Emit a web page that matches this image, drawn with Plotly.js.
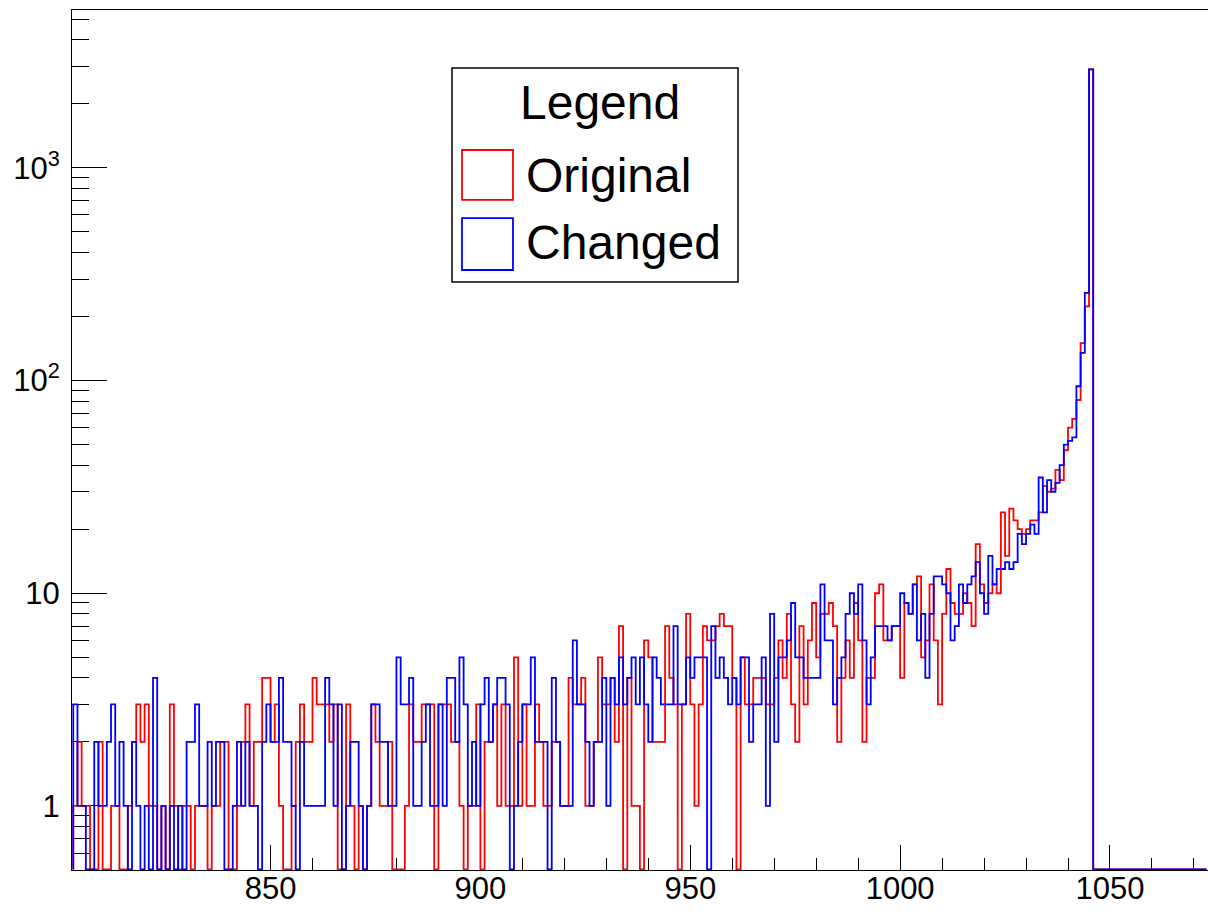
<!DOCTYPE html>
<html>
<head>
<meta charset="utf-8">
<script src="https://cdn.plot.ly/plotly-3.0.1.min.js"></script>
<style>
html,body{margin:0;padding:0;background:#ffffff;overflow:hidden;}
#chart{width:1208px;height:912px;}
</style>
</head>
<body>
<div id="chart"></div>
<script>
// ---- data (counts per 1-unit bin, first bin starts at 803) ----
const binLow = 803;
const binWidth = 1;

const originalCounts = [
  // 803-883
  1,2,1,1,0,0,2,0,0,1, 1,0,0,1,2,3,2,3,1,1, 0,1,0,3,1,0,1,1,0,1,
  1,1,0,1,1,2,2,0,0,1, 2,3,1,2,2,4,4,2,3,1, 0,0,1,2,3,2,2,4,3,3,
  3,2,3,0,0,3,1,0,1,0, 1,3,2,1,1,2,0,0,0,1, 3,
  // 884-964
  2,2,3,3,3,0,3,3,3,2, 2,1,0,1,1,3,0,2,2,3, 1,3,1,1,5,1,3,1,1,3,
  2,1,1,2,2,1,1,4,3,3, 4,1,1,2,5,3,3,4,2,7, 0,4,1,1,0,6,5,2,2,2,
  7,4,3,0,3,8,3,1,3,7, 6,6,7,8,7,7,4,0,5,3, 3,
  // 965-1045
  4,4,4,3,3,4,6,4,8,3, 2,7,3,6,9,5,8,8,9,7, 2,4,6,4,9,6,2,4,4,10,
  11,6,6,7,7,4,9,8,11,12, 5,6,11,6,3,8,13,9,8,8, 10,9,7,17,11,9,10,11,10,24,
  15,25,22,20,19,20,22,22,24,32, 30,31,38,34,47,60,66,81,150,223, 2900,
  // 1046-1072
  0,0,0,0,0,0,0,0,0,0, 0,0,0,0,0,0,0,0,0,0, 0,0,0,0,0,0,0
];

const changedCounts = [
  // 803-883
  3,1,1,0,0,2,1,1,2,3, 1,2,1,0,2,1,0,1,0,4, 0,1,0,1,0,1,0,2,2,3,
  1,1,2,1,2,2,0,0,1,2, 1,2,1,1,0,2,3,2,2,4, 2,2,1,0,2,1,1,1,1,1,
  4,3,1,3,0,1,2,2,1,0, 1,3,3,2,2,1,1,5,3,3, 4,
  // 884-964
  1,1,2,3,1,1,3,1,4,4, 2,5,3,1,2,1,3,4,2,3, 4,4,3,0,1,2,3,3,5,2,
  2,2,0,4,2,1,1,1,6,3, 3,2,1,2,2,4,1,4,3,5, 3,4,5,3,5,3,2,5,4,3,
  3,3,7,3,3,5,4,5,5,5, 0,7,4,5,4,3,4,3,5,5, 2,
  // 965-1045
  3,3,5,1,8,2,5,5,6,9, 5,5,4,4,4,4,11,6,6,3, 4,5,8,10,8,11,6,3,5,7,
  7,7,6,7,7,10,9,8,11,6, 8,4,8,12,12,11,10,6,7,11, 9,11,12,14,10,8,15,11,13,13,
  14,13,14,19,17,19,21,19,35,24, 34,30,33,40,50,52,54,94,135,258, 2900,
  // 1046-1072
  0,0,0,0,0,0,0,0,0,0, 0,0,0,0,0,0,0,0,0,0, 0,0,0,0,0,0,0
];

const seriesNames = ['Original', 'Changed'];
const seriesColors = ['#ff0000', '#0000ff'];
const legendTitle = 'Legend';

const xTickVals = [850, 900, 950, 1000, 1050];
const xMinorTicks = [810,820,830,840,860,870,880,890,910,920,930,940,960,970,980,990,1010,1020,1030,1040,1060,1070];
const yTickVals = [1, 10, 100, 1000];
const yTickText = ['1', '10', '10<sup>2</sup>', '10<sup>3</sup>'];
const yMinorTicks = [0.6,0.7,0.8,0.9, 2,3,4,5,6,7,8,9, 20,30,40,50,60,70,80,90,
                     200,300,400,500,600,700,800,900, 2000,3000,4000,5000];

// empty bins are drawn on the bottom edge of the log frame (as ROOT does)
const yFloor = 0.503;

function stepTrace(counts, name, color) {
  const x = [binLow];
  const y = [yFloor];
  counts.forEach(function (c, i) {
    x.push(binLow + i * binWidth);
    y.push(c > 0 ? c : yFloor);
  });
  x.push(binLow + counts.length * binWidth);
  y.push(y[y.length - 1]);
  return {
    type: 'scatter', mode: 'lines', x: x, y: y, name: name,
    line: {shape: 'hv', color: color, width: 1.8},
    showlegend: false, hoverinfo: 'x+y'
  };
}

const traces = [
  stepTrace(originalCounts, seriesNames[0], seriesColors[0]),
  stepTrace(changedCounts, seriesNames[1], seriesColors[1])
];

// legend box geometry in paper coordinates
const L = {x0: 0.3345, x1: 0.5863, y0: 0.6837, y1: 0.9326};
const layout = {
  width: 1208, height: 912,
  margin: {l: 72, r: 0, t: 10, b: 42, pad: 0},
  paper_bgcolor: '#ffffff', plot_bgcolor: '#ffffff',
  font: {family: 'Liberation Sans, Arial, Helvetica, sans-serif', size: 31, color: '#000000'},
  showlegend: false,
  xaxis: {
    range: [802.7, 1073.35],
    tickmode: 'array', tickvals: xTickVals,
    ticks: 'inside', ticklen: 25, tickwidth: 1, tickcolor: '#000',
    ticklabelstandoff: -9,
    showline: true, linecolor: '#000', linewidth: 1, mirror: true,
    showgrid: false, zeroline: false, layer: 'below traces',
    tickfont: {size: 31},
    minor: {tickmode: 'array', tickvals: xMinorTicks, ticks: 'inside', ticklen: 12, tickwidth: 1, tickcolor: '#000', showgrid: false}
  },
  yaxis: {
    type: 'log',
    range: [Math.log10(0.5), 3.7418],
    tickmode: 'array', tickvals: yTickVals, ticktext: yTickText,
    ticks: 'inside', ticklen: 35, tickwidth: 1, tickcolor: '#000',
    ticklabelstandoff: 5,
    showline: true, linecolor: '#000', linewidth: 1, mirror: false,
    showgrid: false, zeroline: false, layer: 'below traces',
    tickfont: {size: 31},
    minor: {tickmode: 'array', tickvals: yMinorTicks, ticks: 'inside', ticklen: 17, tickwidth: 1, tickcolor: '#000', showgrid: false}
  },
  shapes: [
    {type: 'rect', xref: 'paper', yref: 'paper', x0: L.x0, x1: L.x1, y0: L.y0, y1: L.y1,
     line: {color: '#000', width: 1.5}, fillcolor: '#ffffff', layer: 'above'},
    {type: 'rect', xref: 'paper', yref: 'paper', x0: 0.3433, x1: 0.3882, y0: 0.7791, y1: 0.8372,
     line: {color: seriesColors[0], width: 1.8}, fillcolor: 'rgba(0,0,0,0)', layer: 'above'},
    {type: 'rect', xref: 'paper', yref: 'paper', x0: 0.3433, x1: 0.3882, y0: 0.6977, y1: 0.7581,
     line: {color: seriesColors[1], width: 1.8}, fillcolor: 'rgba(0,0,0,0)', layer: 'above'}
  ],
  annotations: [
    {xref: 'paper', yref: 'paper', x: 0.4648, y: 0.8919, xanchor: 'center', yanchor: 'middle',
     text: legendTitle, showarrow: false, font: {size: 48, color: '#000'}},
    {xref: 'paper', yref: 'paper', x: 0.3975, y: 0.8081, xanchor: 'left', yanchor: 'middle',
     text: seriesNames[0], showarrow: false, font: {size: 48, color: '#000'}},
    {xref: 'paper', yref: 'paper', x: 0.3975, y: 0.7291, xanchor: 'left', yanchor: 'middle',
     text: seriesNames[1], showarrow: false, font: {size: 48, color: '#000'}}
  ]
};

Plotly.newPlot('chart', traces, layout, {displayModeBar: false, staticPlot: true});
</script>
</body>
</html>
